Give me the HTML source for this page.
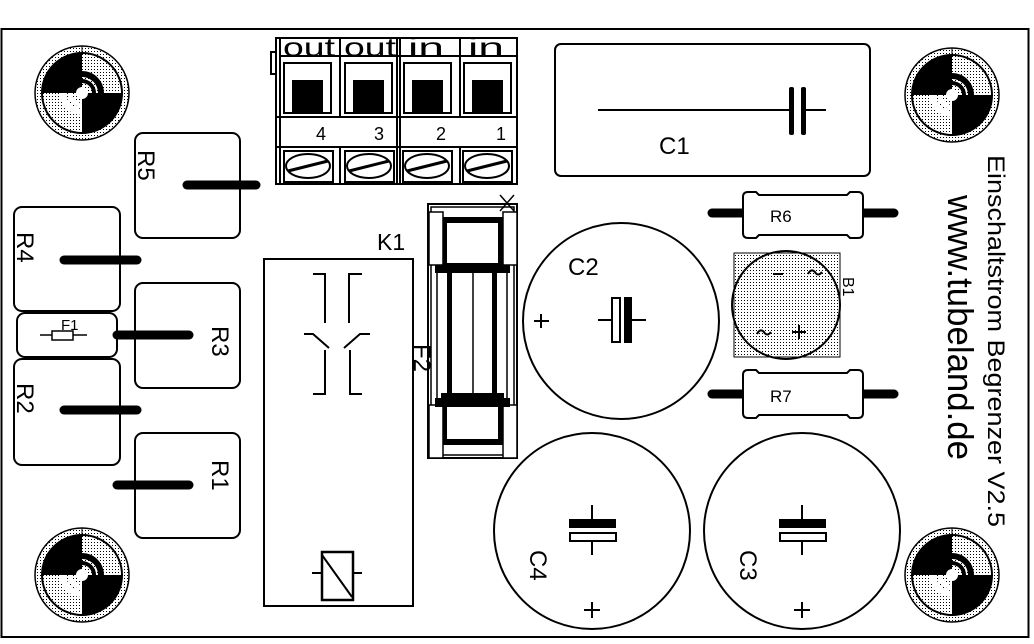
<!DOCTYPE html>
<html><head><meta charset="utf-8"><style>
html,body{margin:0;padding:0;background:#fff}
svg{display:block}
text{font-family:"Liberation Sans",sans-serif;fill:#000}
</style></head><body>
<svg width="1034" height="644" viewBox="0 0 1034 644" xmlns="http://www.w3.org/2000/svg">
<defs>
<pattern id="dots" width="3" height="3" patternUnits="userSpaceOnUse"><rect width="3" height="3" fill="#fff"/><rect width="1" height="1" fill="#000"/></pattern>
<g id="hole">
<circle r="47" fill="url(#dots)" stroke="#000" stroke-width="1.5"/>
<circle r="40" fill="url(#dots)" stroke="#000" stroke-width="2"/>
<path d="M0,0 L-40,0 A40,40 0 0 1 0,-40 Z" fill="#000"/>
<path d="M0,0 L40,0 A40,40 0 0 1 0,40 Z" fill="#000"/>
<path d="M0,-22 A22,22 0 0 1 22,0 L16,0 A16,16 0 0 0 0,-16 Z" fill="#000"/>
<path d="M0,22 A22,22 0 0 1 -22,0 L-16,0 A16,16 0 0 0 0,16 Z" fill="#fff"/>
<path d="M0,-14 A14,14 0 0 1 14,0 L10,0 A10,10 0 0 0 0,-10 Z" fill="#000"/>
<path d="M0,14 A14,14 0 0 1 -14,0 L-10,0 A10,10 0 0 0 0,10 Z" fill="#fff"/>
<circle r="6" fill="#fff"/>
<line x1="0" y1="-47" x2="0" y2="-40" stroke="#000"/>
</g>
</defs>
<rect x="1.5" y="29" width="1027" height="608" fill="none" stroke="#000" stroke-width="2"/>
<use href="#hole" x="82" y="93"/>
<use href="#hole" x="952" y="95"/>
<use href="#hole" x="82" y="575"/>
<use href="#hole" x="952" y="575"/>

<!-- terminal block -->
<g fill="none" stroke="#000" stroke-width="2">
<rect x="276" y="38" width="241" height="146"/>
<line x1="280" y1="38" x2="280" y2="184"/>
<line x1="276" y1="117" x2="517" y2="117"/>
<line x1="276" y1="147" x2="517" y2="147"/>
<line x1="340" y1="38" x2="340" y2="117"/><line x1="340" y1="147" x2="340" y2="184"/>
<line x1="397" y1="38" x2="397" y2="184"/><line x1="400" y1="38" x2="400" y2="184"/>
<line x1="460" y1="38" x2="460" y2="117"/><line x1="460" y1="147" x2="460" y2="184"/>
<line x1="280" y1="56" x2="517" y2="56"/>
<path d="M276,52 h-5 v22 h5"/>
</g>
<g font-size="26">
<text x="283" y="56" textLength="52" lengthAdjust="spacingAndGlyphs">out</text>
<text x="344" y="56" textLength="52" lengthAdjust="spacingAndGlyphs">out</text>
<text x="408" y="56" textLength="36" lengthAdjust="spacingAndGlyphs">in</text>
<text x="468" y="56" textLength="36" lengthAdjust="spacingAndGlyphs">in</text>
<text x="316" y="140" font-size="18">4</text><text x="374" y="140" font-size="18">3</text>
<text x="436" y="140" font-size="18">2</text><text x="496" y="140" font-size="18">1</text>
</g>
<g>
<rect x="284" y="63" width="47" height="50" fill="none" stroke="#000" stroke-width="2"/><rect x="292" y="80" width="31" height="33"/>
<rect x="345" y="63" width="47" height="50" fill="none" stroke="#000" stroke-width="2"/><rect x="353" y="80" width="31" height="33"/>
<rect x="404" y="63" width="47" height="50" fill="none" stroke="#000" stroke-width="2"/><rect x="412" y="80" width="31" height="33"/>
<rect x="464" y="63" width="47" height="50" fill="none" stroke="#000" stroke-width="2"/><rect x="472" y="80" width="31" height="33"/>
</g>
<g fill="none" stroke="#000" stroke-width="2">
<rect x="284" y="151" width="49" height="31"/><ellipse cx="308" cy="166" rx="22" ry="12"/><line x1="288" y1="171" x2="328" y2="161" stroke-width="3"/>
<rect x="345" y="151" width="49" height="31"/><ellipse cx="369" cy="166" rx="22" ry="12"/><line x1="349" y1="171" x2="389" y2="161" stroke-width="3"/>
<rect x="403" y="151" width="49" height="31"/><ellipse cx="427" cy="166" rx="22" ry="12"/><line x1="407" y1="171" x2="447" y2="161" stroke-width="3"/>
<rect x="463" y="151" width="49" height="31"/><ellipse cx="487" cy="166" rx="22" ry="12"/><line x1="467" y1="171" x2="507" y2="161" stroke-width="3"/>
</g>

<!-- resistors left -->
<g fill="none" stroke="#000" stroke-width="2">
<rect x="135" y="133" width="105" height="105" rx="8"/>
<rect x="14" y="207" width="106" height="104" rx="8"/>
<rect x="17" y="313" width="100" height="44" rx="8"/>
<rect x="135" y="283" width="105" height="105" rx="8"/>
<rect x="14" y="359" width="106" height="106" rx="8"/>
<rect x="135" y="433" width="105" height="105" rx="8"/>
</g>
<g stroke="#000" stroke-width="9" stroke-linecap="round">
<line x1="187" y1="185" x2="256" y2="185"/>
<line x1="64" y1="260" x2="137" y2="260"/>
<line x1="117" y1="335" x2="189" y2="335"/>
<line x1="64" y1="410" x2="137" y2="410"/>
<line x1="117" y1="485" x2="189" y2="485"/>
</g>
<g font-size="24">
<text transform="translate(138,150) rotate(90)">R5</text>
<text transform="translate(17,232) rotate(90)">R4</text>
<text transform="translate(212,326) rotate(90)">R3</text>
<text transform="translate(17,383) rotate(90)">R2</text>
<text transform="translate(212,460) rotate(90)">R1</text>
</g>
<g fill="none" stroke="#000" stroke-width="1.5">
<rect x="52" y="331" width="21" height="9"/>
<line x1="40" y1="335" x2="52" y2="335"/><line x1="73" y1="335" x2="87" y2="335"/>
</g>
<text x="61" y="330" font-size="15">F1</text>

<!-- K1 relay -->
<g fill="none" stroke="#000" stroke-width="2">
<rect x="264" y="259" width="149" height="347"/>
<path d="M313,274 H325 V323"/>
<path d="M304,334 H313 L329,348"/>
<path d="M325,350 V394 H313"/>
<path d="M362,274 H349 V323"/>
<path d="M370,334 H360 L344,348"/>
<path d="M350,350 V394 H362"/>
<rect x="322" y="552" width="31" height="48" stroke-width="2.5"/>
<line x1="322" y1="555" x2="352" y2="597"/>
<line x1="312" y1="573" x2="322" y2="573"/><line x1="353" y1="573" x2="362" y2="573"/>
</g>
<text x="377" y="250" font-size="23">K1</text>
<text transform="translate(414,344) rotate(90)" font-size="24">F2</text>

<!-- F2 fuse -->
<g fill="none" stroke="#000">
<rect x="428" y="204" width="89" height="254" stroke-width="2"/>
<rect x="431" y="207" width="83" height="248" stroke-width="1.5"/>
<rect x="444" y="220" width="57" height="46" stroke-width="6"/>
<rect x="444" y="396" width="57" height="46" stroke-width="6"/>
<rect x="429" y="212" width="14" height="53" fill="#fff" stroke-width="1.5"/>
<rect x="503" y="212" width="14" height="53" fill="#fff" stroke-width="1.5"/>
<rect x="429" y="405" width="14" height="53" fill="#fff" stroke-width="1.5"/>
<rect x="503" y="405" width="14" height="53" fill="#fff" stroke-width="1.5"/>
<line x1="437" y1="273" x2="437" y2="398" stroke-width="1.5"/>
<line x1="473" y1="273" x2="473" y2="398" stroke-width="1.5"/>
<line x1="507" y1="273" x2="507" y2="398" stroke-width="1.5"/>
<path d="M500,195 L514,211 M514,195 L500,211" stroke-width="1.5"/>
</g>
<rect x="435" y="265" width="75" height="8"/>
<rect x="435" y="398" width="75" height="9"/>
<rect x="447" y="273" width="5" height="125"/>
<rect x="492" y="273" width="5" height="125"/>

<!-- C1 -->
<g fill="none" stroke="#000" stroke-width="2">
<rect x="555" y="44" width="315" height="132" rx="6"/>
<line x1="598" y1="110" x2="790" y2="110"/>
<line x1="803" y1="110" x2="826" y2="110"/>
</g>
<rect x="789" y="87" width="5" height="48" rx="2"/>
<rect x="801" y="87" width="5" height="48" rx="2"/>
<text x="659" y="154" font-size="24">C1</text>

<!-- C2 -->
<g fill="none" stroke="#000" stroke-width="2">
<circle cx="621" cy="321" r="98"/>
<line x1="598" y1="320" x2="612" y2="320"/><line x1="632" y1="320" x2="646" y2="320"/>
<rect x="612" y="298" width="8" height="44" fill="#fff"/>
<line x1="534" y1="321" x2="549" y2="321"/><line x1="541" y1="314" x2="541" y2="328"/>
</g>
<rect x="624" y="297" width="8" height="46"/>
<text x="568" y="275" font-size="24">C2</text>

<!-- C4, C3 -->
<g fill="none" stroke="#000" stroke-width="2">
<circle cx="592" cy="531" r="98"/>
<line x1="592" y1="505" x2="592" y2="519"/><line x1="592" y1="541" x2="592" y2="555"/>
<rect x="570" y="533" width="46" height="8" fill="#fff"/>
<line x1="584" y1="610" x2="600" y2="610"/><line x1="592" y1="602" x2="592" y2="618"/>
<circle cx="802" cy="531" r="98"/>
<line x1="802" y1="505" x2="802" y2="519"/><line x1="802" y1="541" x2="802" y2="555"/>
<rect x="780" y="533" width="46" height="8" fill="#fff"/>
<line x1="794" y1="610" x2="810" y2="610"/><line x1="802" y1="602" x2="802" y2="618"/>
</g>
<rect x="569" y="519" width="47" height="9"/>
<rect x="779" y="519" width="47" height="9"/>
<text transform="translate(530,550) rotate(90)" font-size="24">C4</text>
<text transform="translate(740,550) rotate(90)" font-size="24">C3</text>

<!-- R6 R7 -->
<g stroke="#000" stroke-width="9" stroke-linecap="round">
<line x1="712" y1="213" x2="742" y2="213"/><line x1="864" y1="213" x2="894" y2="213"/>
<line x1="712" y1="394" x2="742" y2="394"/><line x1="864" y1="394" x2="894" y2="394"/>
</g>
<g fill="#fff" stroke="#000" stroke-width="2">
<path d="M743,197 q0,-5 5,-5 h8 l3,3 h88 l3,-3 h8 q5,0 5,5 v36 q0,5 -5,5 h-8 l-3,-3 h-88 l-3,3 h-8 q-5,0 -5,-5 z"/>
<path d="M743,375 q0,-5 5,-5 h8 l3,3 h88 l3,-3 h8 q5,0 5,5 v38 q0,5 -5,5 h-8 l-3,-3 h-88 l-3,3 h-8 q-5,0 -5,-5 z"/>
</g>
<text x="770" y="222" font-size="17">R6</text>
<text x="770" y="402" font-size="17">R7</text>

<!-- B1 -->
<rect x="734" y="253" width="106" height="104" fill="url(#dots)" stroke="#000" stroke-width="1"/>
<circle cx="786" cy="305" r="54" fill="none" stroke="#000" stroke-width="2"/>
<g fill="none" stroke="#000" stroke-width="2">
<line x1="773" y1="274" x2="783" y2="274"/>
<line x1="792" y1="332" x2="806" y2="332"/><line x1="799" y1="325" x2="799" y2="339"/>
<path d="M808,274 q3,-6 7,-2 q3,5 7,0"/>
<path d="M757,334 q3,-6 7,-2 q3,5 7,0"/>
</g>
<text transform="translate(843,277) rotate(90)" font-size="16">B1</text>

<!-- right text -->
<text transform="translate(988,155) rotate(90)" font-family="Liberation Mono,monospace" font-size="24" textLength="372" lengthAdjust="spacingAndGlyphs">Einschaltstrom Begrenzer V2.5</text>
<text transform="translate(948,195) rotate(90)" font-family="Liberation Mono,monospace" font-size="36" textLength="265" lengthAdjust="spacingAndGlyphs">www.tubeland.de</text>
</svg>
</body></html>
